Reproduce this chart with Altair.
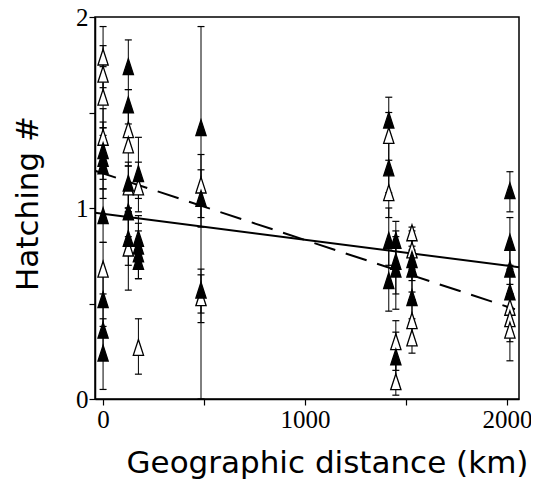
import altair as alt
import pandas as pd

# ---- data ----
dist = (
    [0] * 12 + [125] * 9 + [175] * 7 + [485] * 5 + [1415] * 6 + [1450] * 6 + [1530] * 7 + [2015] * 7
)
value = [
    1.79, 1.70, 1.58, 1.37, 0.68, 1.30, 1.26, 1.22, 0.96, 0.52, 0.36, 0.24,
    1.74, 1.54, 1.41, 1.33, 1.11, 1.13, 0.98, 0.84, 0.79,
    1.18, 1.11, 0.84, 0.80, 0.76, 0.72, 0.27,
    1.42, 1.12, 1.05, 0.57, 0.53,
    1.46, 1.38, 1.21, 1.08, 0.83, 0.62,
    0.83, 0.72, 0.68, 0.30, 0.22, 0.09,
    0.87, 0.78, 0.73, 0.68, 0.53, 0.41, 0.32,
    1.09, 0.82, 0.68, 0.56, 0.48, 0.42, 0.36,
]
low = [
    1.63, 1.55, 1.42, 1.20, 0.55, 1.15, 1.10, 1.05, 0.82, 0.38, 0.22, 0.05,
    1.62, 1.40, 1.30, 1.22, 0.98, 1.00, 0.85, 0.70, 0.57,
    1.05, 0.98, 0.72, 0.68, 0.63, 0.63, 0.13,
    0.90, 0.95, 0.00, 0.45, 0.40,
    1.35, 1.25, 1.08, 0.95, 0.70, 0.46,
    0.70, 0.55, 0.47, 0.15, 0.08, 0.02,
    0.78, 0.68, 0.62, 0.56, 0.40, 0.30, 0.24,
    0.98, 0.70, 0.55, 0.45, 0.35, 0.30, 0.20,
]
high = [
    1.95, 1.85, 1.74, 1.52, 0.82, 1.45, 1.42, 1.38, 1.10, 0.66, 0.50, 0.42,
    1.88, 1.62, 1.52, 1.44, 1.22, 1.24, 1.10, 0.98, 1.00,
    1.37, 1.24, 0.96, 0.92, 0.88, 0.82, 0.42,
    1.95, 1.28, 1.20, 0.65, 0.68,
    1.58, 1.50, 1.34, 1.20, 1.00, 0.78,
    0.93, 0.88, 0.85, 0.41, 0.35, 0.20,
    0.90, 0.88, 0.85, 0.80, 0.66, 0.52, 0.42,
    1.19, 0.95, 0.80, 0.68, 0.60, 0.55, 0.48,
]
group = [
    "open", "open", "open", "open", "open", "filled", "filled", "filled", "filled", "filled", "filled", "filled",
    "filled", "filled", "open", "open", "open", "filled", "filled", "filled", "open",
    "filled", "open", "filled", "filled", "filled", "filled", "open",
    "filled", "open", "filled", "filled", "open",
    "filled", "open", "filled", "open", "filled", "filled",
    "filled", "filled", "filled", "open", "filled", "open",
    "open", "open", "filled", "filled", "filled", "open", "open",
    "filled", "filled", "filled", "filled", "open", "open", "open",
]

solid_x = [-40, 2060]
solid_y = [0.975, 0.69]
dashed_x = [-40, 2040]
dashed_y = [1.195, 0.47]

x_ticks = [0, 500, 1000, 1500, 2000]
y_ticks = [0, 0.5, 1, 1.5, 2]

df = pd.DataFrame({"dist": dist, "value": value, "low": low, "high": high, "group": group})
sol = pd.DataFrame({"dist": solid_x, "value": solid_y})
das = pd.DataFrame({"dist": dashed_x, "value": dashed_y})

xscale = alt.Scale(domain=[-40, 2060], nice=False, zero=False)
yscale = alt.Scale(domain=[0, 2], nice=False)

xaxis = alt.Axis(
    values=x_ticks,
    labelExpr="datum.value % 1000 == 0 ? datum.label : ''",
    format="d",
    labelOverlap=False,
    title="Geographic distance (km)",
    titleX=232,
    titleY=73,
    titleBaseline="alphabetic",
    titleAnchor="middle",
    titleAlign="center",
)
yaxis = alt.Axis(
    values=y_ticks,
    labelExpr="datum.value == 0 ? '0' : datum.value == 1 ? '1' : datum.value == 2 ? '2' : ''",
    labelOverlap=False,
    title="Hatching #",
    titleX=-58,
    titleY=186,
    titleAngle=-90,
    titleBaseline="alphabetic",
    titleAlign="center",
)

bars = alt.Chart(df).mark_rule(color="black", strokeWidth=1).encode(
    x=alt.X("dist:Q", scale=xscale, axis=xaxis),
    y=alt.Y("low:Q", scale=yscale, axis=yaxis),
    y2="high:Q",
)
cap_lo = alt.Chart(df).mark_tick(orient="horizontal", size=7, thickness=1.2, color="black", opacity=1).encode(
    x=alt.X("dist:Q", scale=xscale), y=alt.Y("low:Q", scale=yscale)
)
cap_hi = alt.Chart(df).mark_tick(orient="horizontal", size=7, thickness=1.2, color="black", opacity=1).encode(
    x=alt.X("dist:Q", scale=xscale), y=alt.Y("high:Q", scale=yscale)
)

tri = "M0,-1L0.65,1L-0.65,1Z"
pts = alt.Chart(df).mark_point(
    shape=tri, size=250, filled=True, strokeWidth=1.3, stroke="black", opacity=1
).encode(
    x=alt.X("dist:Q", scale=xscale),
    y=alt.Y("value:Q", scale=yscale),
    fill=alt.Fill("group:N", scale=alt.Scale(domain=["filled", "open"], range=["black", "white"]), legend=None),
    order=alt.Order("group:N", sort="descending"),
)

solid = alt.Chart(sol).mark_line(color="black", strokeWidth=2).encode(
    x=alt.X("dist:Q", scale=xscale), y=alt.Y("value:Q", scale=yscale)
)
dashed = alt.Chart(das).mark_line(color="black", strokeWidth=2, strokeDash=[22, 11]).encode(
    x=alt.X("dist:Q", scale=xscale), y=alt.Y("value:Q", scale=yscale)
)

chart = (
    alt.layer(bars, cap_lo, cap_hi, solid, dashed, pts)
    .properties(
        width=424,
        height=382,
        autosize=alt.AutoSizeParams(type="none"),
        padding={"left": 87, "top": 9, "right": 12, "bottom": 80},
    )
    .configure_view(stroke="black", strokeWidth=1.5)
    .configure_axis(
        grid=False,
        domainColor="black",
        domainWidth=1.5,
        tickColor="black",
        tickSize=6,
        tickWidth=1.2,
        labelFont="Liberation Serif",
        labelFontSize=25,
        labelColor="black",
        labelPadding=2,
        titleFont="DejaVu Sans",
        titleFontSize=31,
        titleFontWeight="normal",
        titleColor="black",
    )
    .configure_axisY(labelPadding=1)
)

chart.save("out.html", embed_options={"renderer": "svg", "actions": False})
